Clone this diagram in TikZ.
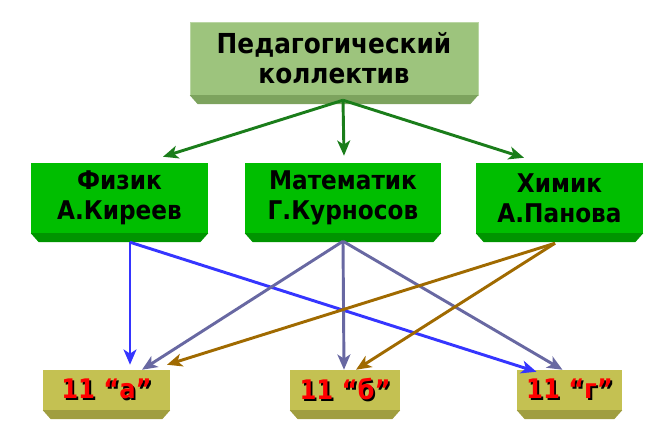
\documentclass[tikz,border=0pt]{standalone}
\usepackage{fontspec}
\setmainfont{DejaVu Sans Condensed}
\usetikzlibrary{arrows.meta,calc}

\definecolor{topfill}{HTML}{9DC47D}
\definecolor{topbev}{HTML}{7DA35E}
\definecolor{teachfill}{HTML}{00BE00}
\definecolor{teachbev}{HTML}{009400}
\definecolor{classfill}{HTML}{C4C152}
\definecolor{classbev}{HTML}{A09E40}
\definecolor{arrgreen}{HTML}{1A7D1A}
\definecolor{arrblue}{HTML}{3535FF}
\definecolor{arrviolet}{HTML}{6868A2}
\definecolor{arrbrown}{HTML}{A06A00}

\newcommand\redlabel[1]{\rlap{\kern1.6pt\raisebox{-1.6pt}{\color{black}#1}}{\color{red}#1}}

\begin{document}
\begin{tikzpicture}[x=0.03cm,y=-0.03cm,
  box/.style={inner sep=0pt,align=center,font=\fontsize{22}{25.5}\selectfont\bfseries},
  link/.style={line width=2.5pt,-{Stealth[length=13pt,width=11pt,inset=3.5pt]}}]

\useasboundingbox (0,0) rectangle (659,433);

% head of the staff
\node[box,fill=topfill,draw=topfill!70!white,minimum width=8.64cm,minimum height=2.19cm,
  font=\fontsize{23.5}{25.5}\selectfont\bfseries] (staff) at (334,58.5) {Педагогический\\коллектив};

% teachers
\node[box,fill=teachfill,minimum width=5.31cm,minimum height=2.1cm] (phys) at (119.5,198) {Физик\\А.Киреев};
\node[box,fill=teachfill,minimum width=5.88cm,minimum height=2.1cm] (math) at (343,198) {Математик\\Г.Курносов};
\node[box,fill=teachfill,minimum width=5.01cm,minimum height=2.1cm] (chem) at (559.5,198) {Химик\\А.Панова};

% classes
\node[box,fill=classfill,minimum width=3.81cm,minimum height=1.2cm,font=\fontsize{23}{24}\selectfont\bfseries] (cla) at (106.5,390) {\redlabel{11 “а”}};
\node[box,fill=classfill,minimum width=3.3cm,minimum height=1.2cm,font=\fontsize{23}{24}\selectfont\bfseries] (clb) at (345,390) {\redlabel{11 “б”}};
\node[box,fill=classfill,minimum width=3.15cm,minimum height=1.2cm,font=\fontsize{23}{24}\selectfont\bfseries] (clg) at (569.5,390) {\redlabel{11 “г”}};

% bevels under the boxes
\foreach \n/\c in {staff/topbev,phys/teachbev,math/teachbev,chem/teachbev,cla/classbev,clb/classbev,clg/classbev} {
  \fill[\c] (\n.south west) -- (\n.south east) -- ([shift={(-8,9)}]\n.south east)
    -- ([shift={(8,9)}]\n.south west) -- cycle;
}

\coordinate (staffout) at ($(staff.south)+(9,5)$);
\coordinate (physout) at ($(phys.south)+(10.5,9)$);
\coordinate (mathout) at ($(math.south)+(0,8)$);
\coordinate (chemout) at ($(chem.south)+(-4.5,10)$);

% staff to teachers
\draw[link,arrgreen] (staffout) -- ($(phys.north)+(43.5,-6)$);
\draw[link,arrgreen] (staffout) -- ($(math.north)+(1,-7)$);
\draw[link,arrgreen] (staffout) -- ($(chem.north)+(-35.5,-5)$);

% teachers to classes
\draw[link,arrblue] (physout) -- ($(cla.north)+(23.5,-5)$);
\draw[link,arrblue] (physout) -- ($(clg.north)+(-33,2)$);
\draw[link,arrviolet] (mathout) -- ($(cla.north)+(35.5,0)$);
\draw[link,arrviolet] (mathout) -- ($(clb.north)+(-1,0)$);
\draw[link,arrviolet] (mathout) -- ($(clg.north)+(-7,0)$);
\draw[link,arrbrown] (chemout) -- ($(cla.north)+(60.5,-5)$);
\draw[link,arrbrown] (chemout) -- ($(clb.north)+(11,0)$);

\end{tikzpicture}
\end{document}
